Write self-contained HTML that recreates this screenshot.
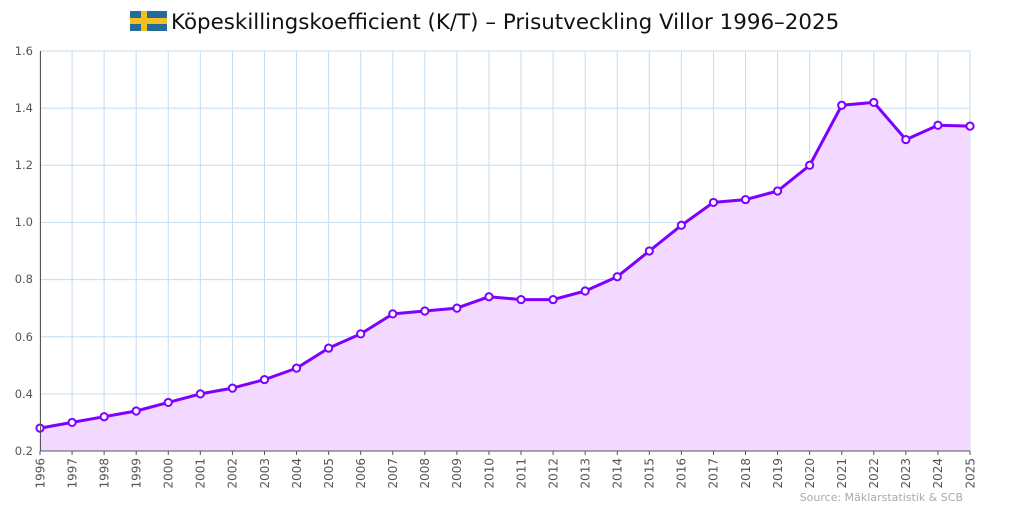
<!DOCTYPE html>
<html><head><meta charset="utf-8"><style>body{margin:0;background:#fff}svg{display:block}</style></head><body>
<svg width="1024" height="512" xmlns="http://www.w3.org/2000/svg" font-family="DejaVu Sans, Liberation Sans, sans-serif">
<rect width="1024" height="512" fill="#fff"/>
<g stroke="#c4dcef" stroke-width="1">
<line x1="40" y1="51" x2="970" y2="51"/><line x1="40" y1="108.1" x2="970" y2="108.1"/><line x1="40" y1="165.3" x2="970" y2="165.3"/><line x1="40" y1="222.4" x2="970" y2="222.4"/><line x1="40" y1="279.6" x2="970" y2="279.6"/><line x1="40" y1="336.7" x2="970" y2="336.7"/><line x1="40" y1="393.9" x2="970" y2="393.9"/>
</g>
<g id="vg" stroke="#c4dcef" stroke-width="1"></g>
<polygon id="area" fill="#f3d8ff"/>
<polyline id="ln" fill="none" stroke="#7f00ff" stroke-width="3" stroke-linejoin="round"/>
<g id="pts"></g>
<line x1="40.5" y1="51" x2="40.5" y2="451" stroke="#555" stroke-width="1"/>
<line x1="40" y1="451" x2="970" y2="451" stroke="#555" stroke-width="1"/>
<g font-size="11.5" fill="#555" text-anchor="end">
<text x="33" y="55">1.6</text><text x="33" y="112">1.4</text><text x="33" y="169">1.2</text><text x="33" y="226">1.0</text><text x="33" y="283">0.8</text><text x="33" y="341">0.6</text><text x="33" y="398">0.4</text><text x="33" y="455">0.2</text>
</g>
<g id="xl" font-size="12" fill="#555"></g>
<rect x="130" y="11" width="37" height="20" fill="#236b9a"/>
<rect x="141" y="11" width="6" height="20" fill="#f4c020"/>
<rect x="130" y="18" width="37" height="6" fill="#f4c020"/>
<text x="171" y="29" font-size="21.4" fill="#111">Köpeskillingskoefficient (K/T) – Prisutveckling Villor 1996–2025</text>
<text x="963" y="501" font-size="11" fill="#aaa" text-anchor="end">Source: Mäklarstatistik &amp; SCB</text>
<script>
var v=[.28,.30,.32,.34,.37,.40,.42,.45,.49,.56,.61,.68,.69,.70,.74,.73,.73,.76,.81,.90,.99,1.07,1.08,1.11,1.20,1.41,1.42,1.29,1.34,1.337];
var ns="http://www.w3.org/2000/svg",p=[],vg=document.getElementById('vg'),pts=document.getElementById('pts'),xl=document.getElementById('xl');
v.forEach(function(d,i){var x=40+i*930/29,y=451-(d-0.2)*285.714;p.push(x.toFixed(1)+','+y.toFixed(1));
var l=document.createElementNS(ns,'line');l.setAttribute('x1',x);l.setAttribute('x2',x);l.setAttribute('y1',51);l.setAttribute('y2',451);vg.appendChild(l);
var t=document.createElementNS(ns,'line');t.setAttribute('x1',x);t.setAttribute('x2',x);t.setAttribute('y1',451);t.setAttribute('y2',455);t.setAttribute('stroke','#555');xl.appendChild(t);
var c=document.createElementNS(ns,'circle');c.setAttribute('cx',x);c.setAttribute('cy',y);c.setAttribute('r',3.6);c.setAttribute('fill','#fff');c.setAttribute('stroke','#7f00ff');c.setAttribute('stroke-width','2');pts.appendChild(c);
var tx=document.createElementNS(ns,'text');tx.setAttribute('transform','translate('+(x+4.3)+',458) rotate(-90)');tx.setAttribute('text-anchor','end');tx.textContent=1996+i;xl.appendChild(tx);});
document.getElementById('ln').setAttribute('points',p.join(' '));
document.getElementById('area').setAttribute('points','40,451 '+p.join(' ')+' 970,451');
</script>
</svg>
</body></html>
